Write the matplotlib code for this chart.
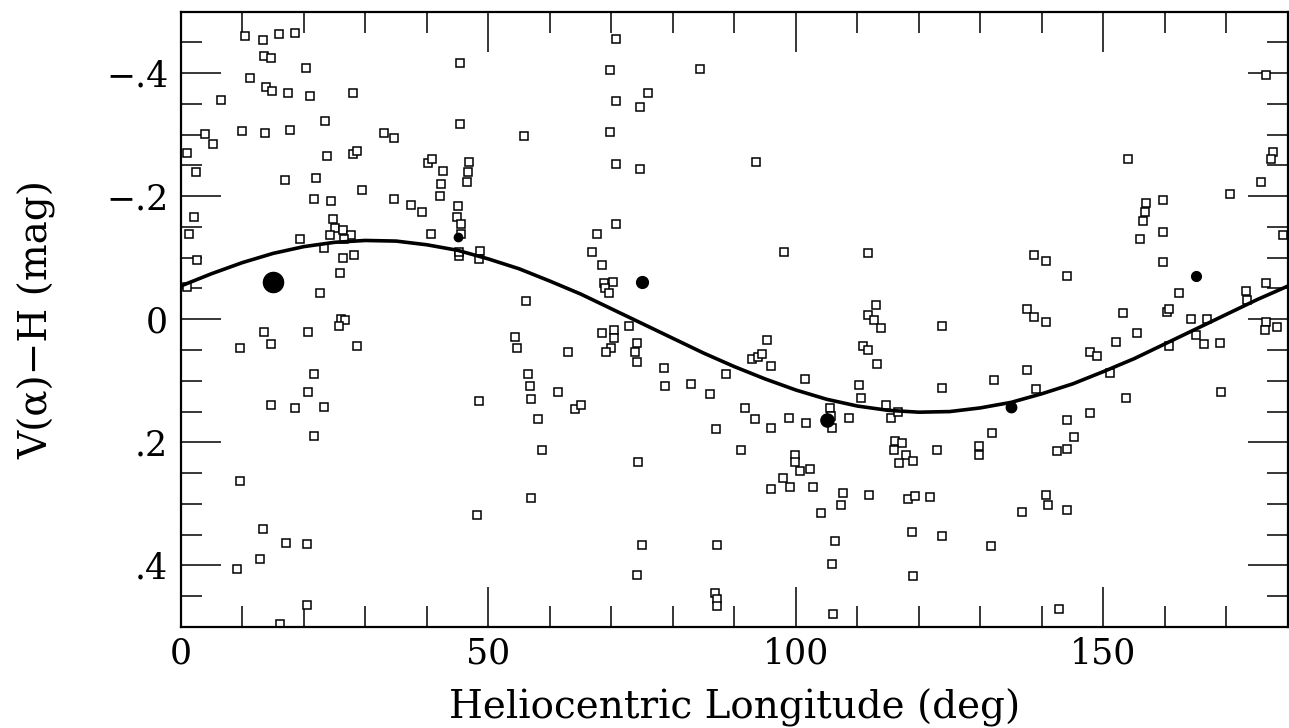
import matplotlib
matplotlib.use('Agg')
import matplotlib.pyplot as plt

# open squares: heliocentric longitude (deg) and V(alpha)-H colour (mag)
sq_lon = [10.4, 13.3, 16.0, 18.6, 13.6, 14.6, 20.4, 11.2, 13.9, 14.8, 17.4, 21.0, 28.0, 6.6, 23.5,
          4.0, 5.2, 10.0, 13.7, 17.8, 33.0, 34.6, 1.0, 23.7, 28.0, 28.6, 40.2, 40.9, 2.4, 42.6,
          16.9, 22.0, 42.3, 29.4, 21.6, 24.4, 34.6, 42.2, 37.5, 39.2, 45.0, 2.1, 1.3, 24.7, 25.0,
          26.4, 24.2, 27.6, 26.6, 19.3, 40.7, 44.9, 45.6, 45.6, 23.2, 26.3, 28.2, 2.6, 45.2, 45.3,
          25.9, 1.0, 22.6, 26.1, 26.7, 25.7, 45.4, 45.4,
          70.7, 69.7, 84.4, 75.9, 70.7, 74.7, 69.8, 55.8, 70.7, 74.7, 46.9, 46.7, 46.5, 70.7, 67.7,
          66.8, 68.4, 68.8, 70.2, 69.0, 69.6, 48.7, 48.5, 56.2, 72.9,
          93.5, 98.0, 111.7, 113.0, 111.7, 112.7, 113.9, 123.7,
          176.4, 177.6, 177.3, 175.6, 170.6, 179.2, 154.0, 156.9, 156.7, 156.4, 159.6, 159.6, 155.9,
          159.6, 138.7, 140.6, 144.0, 162.2, 176.4, 173.2, 173.3, 160.4, 160.6, 153.1, 164.2, 166.9,
          137.5, 138.7, 140.6, 176.4, 176.3, 178.2,
          13.6, 20.6, 9.7, 14.7, 28.7, 21.7, 20.6, 14.7, 18.6, 23.2, 21.7, 9.7, 13.3, 12.9, 9.1,
          17.1, 20.5, 20.5, 16.1,
          54.3, 54.6, 63.0, 68.5, 70.5, 70.5, 70.0, 69.2, 74.2, 73.9, 74.1, 78.6, 78.7, 82.9, 86.0,
          88.7, 56.4, 56.8, 57.0, 48.5, 61.3, 64.1, 65.1, 58.1, 58.8, 74.4, 87.0, 91.0, 57.0, 48.2,
          75.0, 87.1, 74.1, 86.9, 87.1, 87.1,
          95.3, 92.8, 93.9, 94.5, 95.9, 101.5, 110.9, 111.7, 113.2, 110.3, 123.7, 132.2, 110.6,
          105.5, 105.7, 105.9, 108.7, 114.7, 115.4, 116.6, 91.8, 93.4, 98.9, 101.6, 95.9, 131.8,
          99.9, 99.8, 100.6, 102.3, 97.9, 95.9, 99.1, 102.8, 107.6, 107.3, 104.0, 111.9, 116.1,
          117.2, 116.0, 117.9, 119.0, 116.8, 122.9, 129.7, 129.7, 118.3, 119.4, 121.8, 118.8,
          123.7, 131.7, 106.4, 105.8, 119.1, 106.1,
          155.5, 152.1, 147.8, 148.9, 165.1, 166.3, 169.0, 160.6, 137.5, 151.0, 139.1, 153.7,
          169.1, 144.1, 147.8, 145.2, 142.5, 144.0, 140.7, 141.0, 144.0, 136.7, 142.7]
sq_col = [-0.461, -0.454, -0.463, -0.465, -0.428, -0.425, -0.409, -0.392, -0.378, -0.371, -0.367,
          -0.362, -0.367, -0.357, -0.322, -0.301, -0.285, -0.306, -0.302, -0.307, -0.303, -0.295,
          -0.270, -0.266, -0.269, -0.274, -0.254, -0.261, -0.239, -0.241, -0.227, -0.229, -0.220,
          -0.210, -0.196, -0.192, -0.196, -0.201, -0.185, -0.175, -0.184, -0.166, -0.138, -0.163,
          -0.149, -0.145, -0.137, -0.137, -0.131, -0.130, -0.139, -0.166, -0.154, -0.138, -0.115,
          -0.100, -0.105, -0.096, -0.102, -0.109, -0.075, -0.053, -0.042, -0.001, 0.002, 0.011,
          -0.417, -0.317,
          -0.455, -0.405, -0.407, -0.367, -0.354, -0.345, -0.304, -0.298, -0.253, -0.244, -0.256,
          -0.240, -0.223, -0.154, -0.138, -0.109, -0.088, -0.059, -0.061, -0.051, -0.043, -0.111,
          -0.098, -0.030, 0.011,
          -0.256, -0.109, -0.107, -0.023, -0.0065, 0.001, 0.014, 0.011,
          -0.397, -0.272, -0.260, -0.223, -0.204, -0.137, -0.260, -0.189, -0.174, -0.160, -0.193,
          -0.142, -0.130, -0.093, -0.104, -0.094, -0.070, -0.043, -0.059, -0.046, -0.031, -0.011,
          -0.016, -0.010, 0.000, -0.001, -0.016, -0.004, 0.004, 0.005, 0.018, 0.013,
          0.020, 0.020, 0.046, 0.040, 0.043, 0.089, 0.119, 0.139, 0.145, 0.143, 0.189, 0.263,
          0.340, 0.389, 0.405, 0.363, 0.365, 0.465, 0.495,
          0.029, 0.047, 0.053, 0.023, 0.017, 0.030, 0.046, 0.053, 0.038, 0.054, 0.069, 0.080,
          0.108, 0.105, 0.122, 0.089, 0.089, 0.108, 0.130, 0.133, 0.119, 0.146, 0.139, 0.162,
          0.212, 0.232, 0.179, 0.212, 0.291, 0.318, 0.367, 0.366, 0.416, 0.445, 0.455, 0.466,
          0.033, 0.064, 0.062, 0.056, 0.076, 0.097, 0.044, 0.050, 0.072, 0.107, 0.111, 0.098,
          0.128, 0.144, 0.157, 0.177, 0.160, 0.139, 0.160, 0.151, 0.144, 0.162, 0.160, 0.169,
          0.176, 0.184, 0.221, 0.232, 0.246, 0.243, 0.258, 0.275, 0.273, 0.273, 0.282, 0.301,
          0.315, 0.285, 0.197, 0.201, 0.212, 0.221, 0.231, 0.234, 0.212, 0.206, 0.220, 0.292,
          0.287, 0.289, 0.346, 0.352, 0.369, 0.360, 0.397, 0.417, 0.479,
          0.022, 0.037, 0.053, 0.059, 0.026, 0.040, 0.038, 0.044, 0.083, 0.087, 0.114, 0.128,
          0.118, 0.163, 0.152, 0.191, 0.214, 0.211, 0.285, 0.302, 0.310, 0.313, 0.470]

# binned means (filled circles)
bin_lon = [15, 45, 75, 105, 135, 165]
bin_col = [-0.060, -0.133, -0.060, 0.164, 0.143, -0.071]
bin_marker_size = [14.5, 6.0, 8.5, 9.5, 7.5, 7.0]

# fitted curve, read every 5 deg
fit_lon = list(range(0, 181, 5))
fit_col = [-0.054, -0.074, -0.092, -0.107, -0.118, -0.125, -0.128, -0.127, -0.121, -0.112,
           -0.098, -0.082, -0.062, -0.041, -0.017, 0.007, 0.031, 0.055, 0.077, 0.097, 0.115,
           0.130, 0.141, 0.148, 0.151, 0.150, 0.144, 0.135, 0.121, 0.105, 0.085, 0.064, 0.040,
           0.016, -0.008, -0.032, -0.054]

y_ticks = [-0.4, -0.2, 0.0, 0.2, 0.4]
y_labels = ['\u2212.4', '\u2212.2', '0', '.2', '.4']
x_ticks = [0, 50, 100, 150]
x_labels = ['0', '50', '100', '150']

plt.rcParams['font.family'] = ['DejaVu Serif']

fig = plt.figure(figsize=(12.89, 7.28), dpi=100)
ax = fig.add_axes([180.8 / 1289, 1 - 627 / 728, (1288 - 180.8) / 1289, (627 - 11.5) / 728])

ax.plot(sq_lon, sq_col, linestyle='none', marker='s', markersize=5.5,
        markerfacecolor='white', markeredgecolor='black', markeredgewidth=1.1, zorder=2)
ax.plot(fit_lon, fit_col, color='black', linewidth=2.6, zorder=3)
for lon, col, ms in zip(bin_lon, bin_col, bin_marker_size):
    ax.plot(lon, col, marker='o', markersize=ms, color='black', linestyle='none', zorder=4)

ax.set_xlim(0, 180)
ax.set_ylim(0.5, -0.5)

ax.set_xticks(x_ticks, labels=x_labels)
ax.set_xticks(range(0, 181, 10), minor=True)
ax.set_yticks(y_ticks, labels=y_labels)
ax.set_yticks([i * 0.05 - 0.5 for i in range(21)], minor=True)

ax.tick_params(which='both', direction='in', top=True, right=True, width=1.1, color='black')
ax.tick_params(which='major', length=29, labelsize=25)
ax.tick_params(axis='x', which='major', pad=7)
ax.tick_params(axis='y', which='major', pad=9)
ax.tick_params(which='minor', length=15)
for s in ax.spines.values():
    s.set_linewidth(1.6)

ax.set_xlabel('Heliocentric Longitude (deg)', fontsize=28, labelpad=13)
ax.set_ylabel('V(\u03b1)\u2212H (mag)', fontsize=28, labelpad=36)

plt.savefig('out.png', dpi=100)
